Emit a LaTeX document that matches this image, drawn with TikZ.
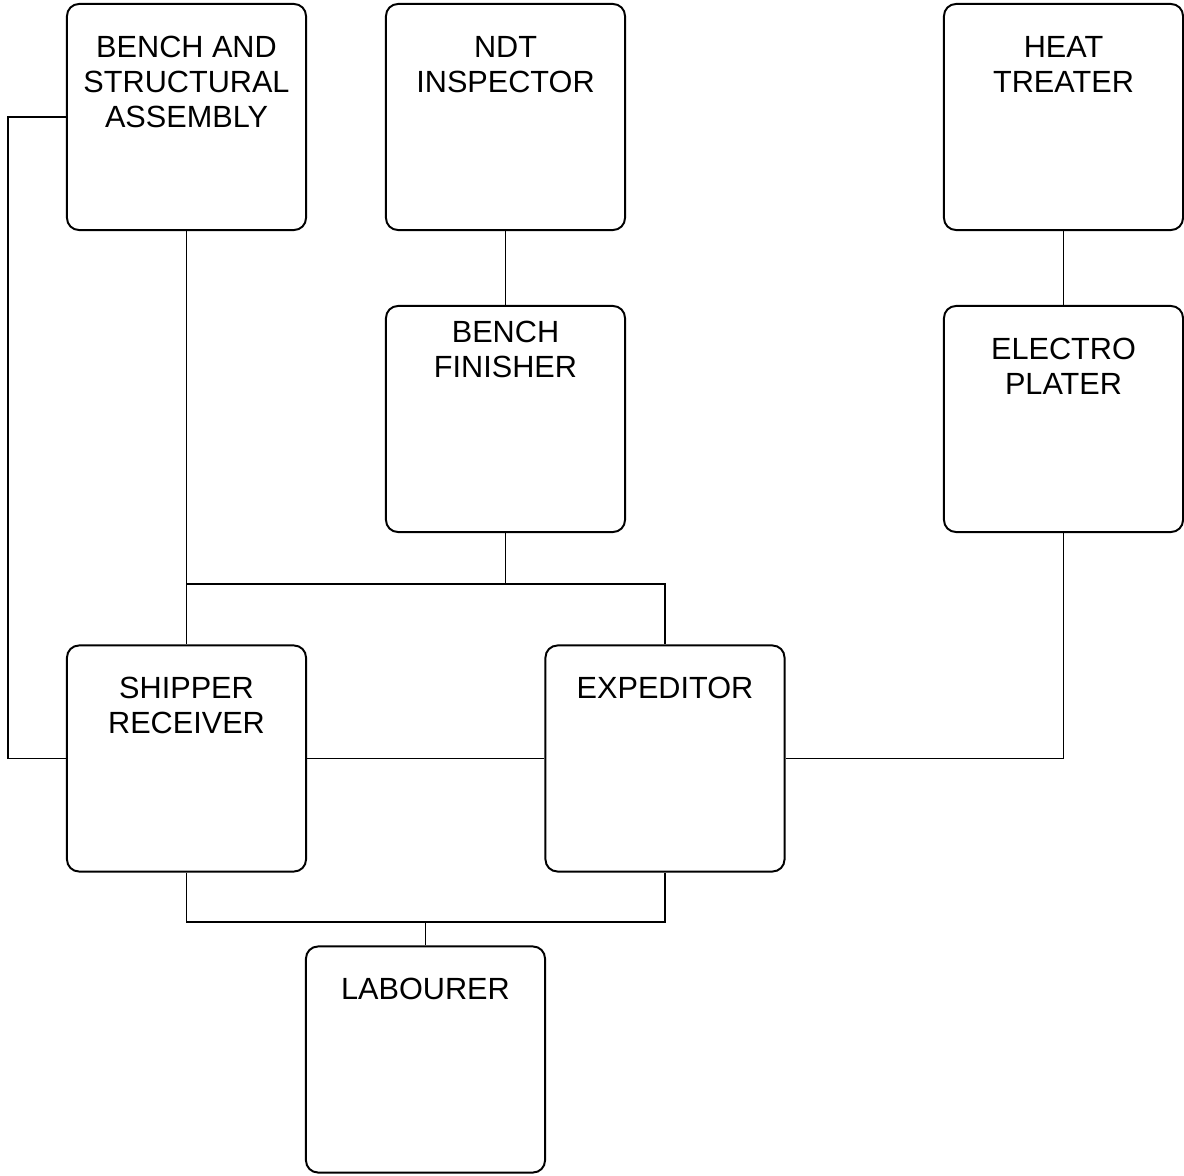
\documentclass[tikz,border=0pt]{standalone}
\usepackage{fontspec}
\setmainfont{Liberation Sans}
\tikzset{
  unit/.style={
    draw=black,line width=1.4pt,rounded corners=0.3cm,
    minimum width=5.975cm,minimum height=5.65cm,inner sep=0pt,
  },
  link/.style={line width=1.4pt},
}
\newcommand{\unittext}[2][0.8cm]{%
  \parbox[c][5.65cm][t]{5.9cm}{\centering\fontsize{21.8}{24.9}\selectfont
    \vspace*{#1}#2}}

\begin{document}
\begin{tikzpicture}[x=0.025cm,y=-0.025cm]
        \useasboundingbox (0,0) rectangle (1184,1176);
        % units
        \node[unit] (bsa) at (186.5,117) {\unittext{BENCH AND\\STRUCTURAL\\ASSEMBLY}};
        \node[unit] (ndt) at (505.5,117) {\unittext{NDT\\INSPECTOR}};
        \node[unit] (heat) at (1063.5,117) {\unittext{HEAT\\TREATER}};
        \node[unit] (finisher) at (505.5,419) {\unittext[0.375cm]{BENCH\\FINISHER}};
        \node[unit] (plater) at (1063.5,419) {\unittext{ELECTRO\\PLATER}};
        \node[unit] (shipper) at (186.5,758.5) {\unittext{SHIPPER\\RECEIVER}};
        \node[unit] (expeditor) at (665,758.5) {\unittext{EXPEDITOR}};
        \node[unit] (labourer) at (425.5,1059.5) {\unittext{LABOURER}};
        % bends
        \coordinate (rim) at (8,117);
        \coordinate (bus) at (505.5,584);
        \coordinate (floor) at (425.5,922);
        % links
        \draw[link] (ndt.south) -- (finisher.north);
        \draw[link] (heat.south) -- (plater.north);
        \draw[link] (bsa.south) -- (shipper.north);
        \draw[link] (finisher.south) -- (bus);
        \draw[link] (bsa.south |- bus) -| (expeditor.north);
        \draw[link] (bsa.west) -- (rim) |- (shipper.west);
        \draw[link] (shipper.east) -- (expeditor.west);
        \draw[link] (plater.south) |- (expeditor.east);
        \draw[link] (shipper.south) |- (floor) -| (expeditor.south);
        \draw[link] (labourer.north) -- (floor);
\end{tikzpicture}
\end{document}
